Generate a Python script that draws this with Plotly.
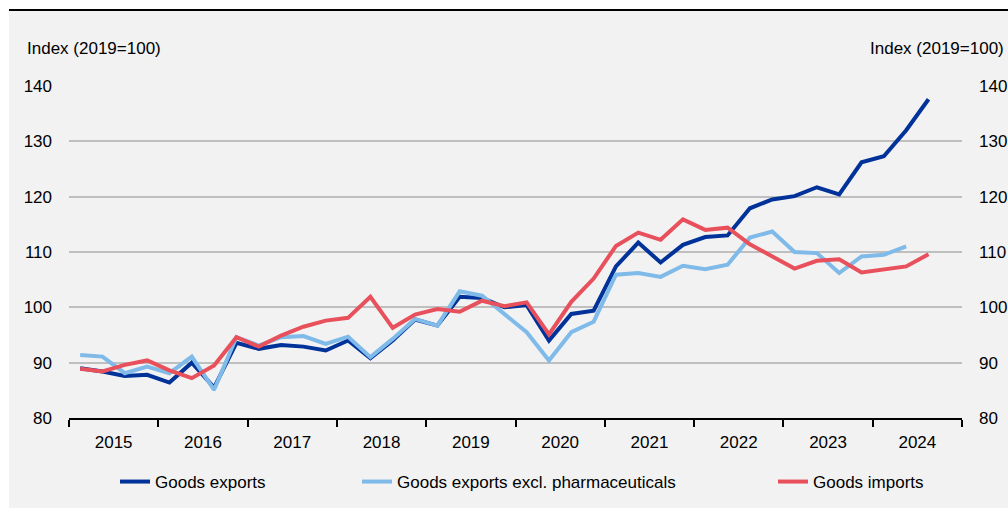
import plotly.graph_objects as go

# Quarterly index values, 2015Q1 onwards (2019=100)
quarters_start = 2015
goods_exports = [89.0, 88.4, 87.6, 87.8, 86.4, 90.0, 85.5, 93.6, 92.5, 93.2,
                 92.9, 92.2, 94.0, 90.8, 94.0, 97.8, 96.7, 101.9, 101.7, 100.0,
                 100.4, 94.0, 98.8, 99.4, 107.4, 111.7, 108.1, 111.3, 112.7, 113.0,
                 117.9, 119.5, 120.1, 121.7, 120.4, 126.2, 127.3, 132.0, 137.6]
goods_exports_ex_pharma = [91.4, 91.1, 88.1, 89.3, 88.1, 91.1, 85.1, 94.6, 93.1, 94.6,
                           94.8, 93.4, 94.7, 91.0, 94.3, 97.9, 96.7, 102.9, 102.1, 98.7,
                           95.5, 90.4, 95.5, 97.4, 105.9, 106.2, 105.5, 107.5, 106.9, 107.7,
                           112.6, 113.7, 110.0, 109.8, 106.2, 109.2, 109.5, 111.0]
goods_imports = [88.9, 88.4, 89.6, 90.4, 88.6, 87.2, 89.5, 94.6, 92.9, 94.9,
                 96.5, 97.6, 98.1, 101.9, 96.3, 98.7, 99.7, 99.2, 101.2, 100.2,
                 100.9, 95.1, 101.0, 105.2, 111.1, 113.5, 112.2, 115.9, 114.0, 114.4,
                 111.4, 109.1, 107.0, 108.4, 108.7, 106.3, 106.9, 107.4, 109.6]
years = list(range(2015, 2025))
y_ticks = [80, 90, 100, 110, 120, 130, 140]

series_names = ["Goods exports", "Goods exports excl. pharmaceuticals", "Goods imports"]
series_colors = ["#003299", "#7FBAE9", "#E8505B"]


def quarter_positions(n):
    # centre of each quarter on a continuous year axis
    return [quarters_start + (i + 0.5) / 4 for i in range(n)]


FONT = "Liberation Sans, Arial, sans-serif"
FS = 17

fig = go.Figure()
all_series = [goods_exports, goods_exports_ex_pharma, goods_imports]
legend_ids = ["legend", "legend2", "legend3"]
for vals, name, col, lg in zip(all_series, series_names, series_colors, legend_ids):
    fig.add_trace(go.Scatter(
        x=quarter_positions(len(vals)), y=vals, mode="lines", name=name,
        line=dict(color=col, width=4), legend=lg,
        yaxis="y2" if name == "Goods imports" else "y",
    ))

# plot area geometry in pixels (for paper-coordinate decorations)
W, H = 1008, 508
L, R, T, B = 69, 46, 86, 90
pw, ph = W - L - R, H - T - B


def px_x(px):
    return (px - L) / pw


def px_y(py):
    return (H - B - py) / ph


legend_common = dict(orientation="h", yanchor="middle", xanchor="left",
                     font=dict(family=FONT, size=FS, color="#000000"),
                     bgcolor="rgba(0,0,0,0)", itemwidth=30)
fig.update_layout(
    legend=dict(x=px_x(115), y=px_y(482), **legend_common),
    legend2=dict(x=px_x(357), y=px_y(482), **legend_common),
    legend3=dict(x=px_x(773), y=px_y(482), **legend_common),
)

yaxis_common = dict(range=[80, 140], tickvals=y_ticks, ticks="",
                    tickfont=dict(family=FONT, size=FS, color="#000000"),
                    zeroline=False, fixedrange=True, automargin=False)
fig.update_layout(
    width=W, height=H,
    margin=dict(l=L, r=R, t=T, b=B, autoexpand=False),
    paper_bgcolor="#F2F2F2", plot_bgcolor="#F2F2F2",
    xaxis=dict(range=[2015, 2025], tickvals=[y + 0.5 for y in years],
               ticktext=[str(y) for y in years], ticks="", ticklabelstandoff=8,
               tickfont=dict(family=FONT, size=FS, color="#000000"),
               showgrid=False, zeroline=False, showline=True, automargin=False,
               linecolor="#000000", linewidth=2,
               minor=dict(tickvals=list(range(2015, 2026)), ticks="outside",
                          ticklen=7, tickwidth=2, tickcolor="#000000", showgrid=False)),
    yaxis=dict(showgrid=True, gridcolor="#BFBFBF", gridwidth=2,
               ticklabelstandoff=16, side="left", **yaxis_common),
    yaxis2=dict(overlaying="y", side="right", showgrid=False,
                ticklabelstandoff=16, matches="y", **yaxis_common),
    showlegend=True,
)

# white strip above and left of the panel, with a rule along its top
fig.add_shape(type="rect", xref="paper", yref="paper", x0=px_x(0), x1=px_x(W),
              y0=px_y(0), y1=px_y(10), fillcolor="#FFFFFF", line_width=0, layer="below")
fig.add_shape(type="rect", xref="paper", yref="paper", x0=px_x(0), x1=px_x(9),
              y0=px_y(0), y1=px_y(H), fillcolor="#FFFFFF", line_width=0, layer="below")
fig.add_shape(type="line", xref="paper", yref="paper", x0=px_x(9), x1=px_x(W),
              y0=px_y(10), y1=px_y(10), line=dict(color="#000000", width=2))

# reference line at 100
fig.add_shape(type="line", xref="paper", yref="y", x0=0, x1=1, y0=100, y1=100,
              line=dict(color="#000000", width=1.5), layer="below")

for xa, anchor in [(px_x(25), "left"), (px_x(1006), "right")]:
    fig.add_annotation(text="Index (2019=100)", xref="paper", yref="paper",
                       x=xa, y=px_y(49), xanchor=anchor, yanchor="middle",
                       showarrow=False, font=dict(family=FONT, size=FS, color="#000000"))

fig.write_html("out.html")
